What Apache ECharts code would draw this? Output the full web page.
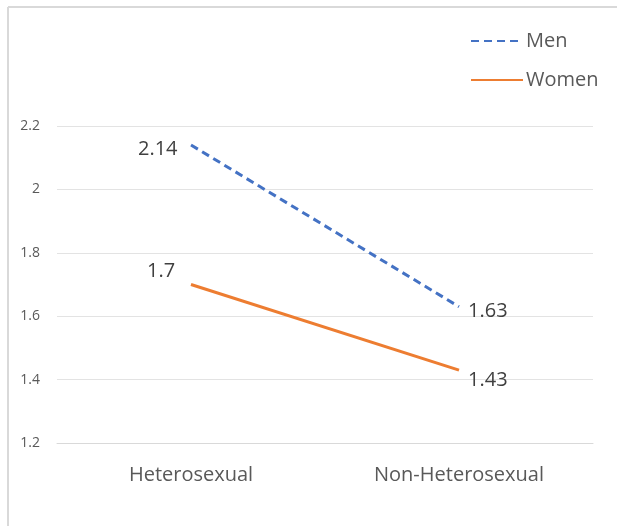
<!DOCTYPE html>
<html>
<head>
<meta charset="utf-8">
<script src="https://cdn.jsdelivr.net/npm/echarts@6/dist/echarts.min.js"></script>
<style>
  html, body { margin: 0; padding: 0; background: #fff; }
  #chart { width: 617px; height: 526px; }
</style>
</head>
<body>
<div id="chart"></div>
<script>
// chart data
var categories = ['Heterosexual', 'Non-Heterosexual'];
var menValues = [2.14, 1.63];
var womenValues = [1.7, 1.43];
var yMin = 1.2, yMax = 2.2, yStep = 0.2;

var chart = echarts.init(document.getElementById('chart'));

var option = {
  animation: false,
  textStyle: { fontFamily: 'Open Sans' },
  graphic: [
    // frame of the chart area (top and left only are visible)
    { type: 'line', shape: { x1: 8, y1: 7, x2: 617, y2: 7 }, style: { stroke: '#d9d9d9', lineWidth: 2 } },
    { type: 'line', shape: { x1: 8, y1: 7, x2: 8, y2: 526 }, style: { stroke: '#d9d9d9', lineWidth: 2 } }
  ],
  legend: {
    orient: 'vertical',
    left: 470,
    top: 31,
    padding: 0,
    itemWidth: 52,
    itemHeight: 14,
    itemGap: 19,
    itemStyle: { opacity: 0 },
    textStyle: { fontSize: 20, color: '#595959', padding: [0, 0, 0, -2] },
    data: ['Men', 'Women']
  },
  grid: { left: 57, right: 24, top: 126, bottom: 83 },
  xAxis: {
    type: 'category',
    data: categories,
    boundaryGap: true,
    axisTick: { show: false },
    axisLine: { show: true, lineStyle: { color: '#d9d9d9' } },
    axisLabel: { color: '#595959', fontSize: 20, margin: 22 }
  },
  yAxis: {
    type: 'value',
    min: yMin,
    max: yMax,
    interval: yStep,
    axisLine: { show: false },
    axisTick: { show: false },
    splitLine: { lineStyle: { color: '#e3e3e3' } },
    axisLabel: { color: '#595959', fontSize: 14, margin: 17 }
  },
  series: [
    {
      name: 'Men',
      type: 'line',
      data: menValues,
      symbol: 'circle',
      symbolSize: 0.1,
      showSymbol: true,
      lineStyle: { color: '#4472c4', width: 3, type: [8, 5] },
      itemStyle: { color: '#4472c4' },
      label: {
        show: true,
        fontSize: 20,
        color: '#404040',
        position: 'right',
        distance: 9,
        offset: [0, 7]
      },
      labelLayout: function (params) {
        if (params.dataIndex === 0) {
          return { x: params.rect.x - 53, y: params.rect.y - 6 };
        }
        return { dy: 5 };
      }
    },
    {
      name: 'Women',
      type: 'line',
      data: womenValues,
      symbol: 'circle',
      symbolSize: 0.1,
      showSymbol: true,
      lineStyle: { color: '#ed7d31', width: 3 },
      itemStyle: { color: '#ed7d31' },
      label: {
        show: true,
        fontSize: 20,
        color: '#404040',
        position: 'right',
        distance: 9,
        offset: [0, 13]
      },
      labelLayout: function (params) {
        if (params.dataIndex === 0) {
          return { x: params.rect.x - 44, y: params.rect.y - 23 };
        }
        return { dy: 10 };
      }
    }
  ]
};

chart.setOption(option);
</script>
</body>
</html>
